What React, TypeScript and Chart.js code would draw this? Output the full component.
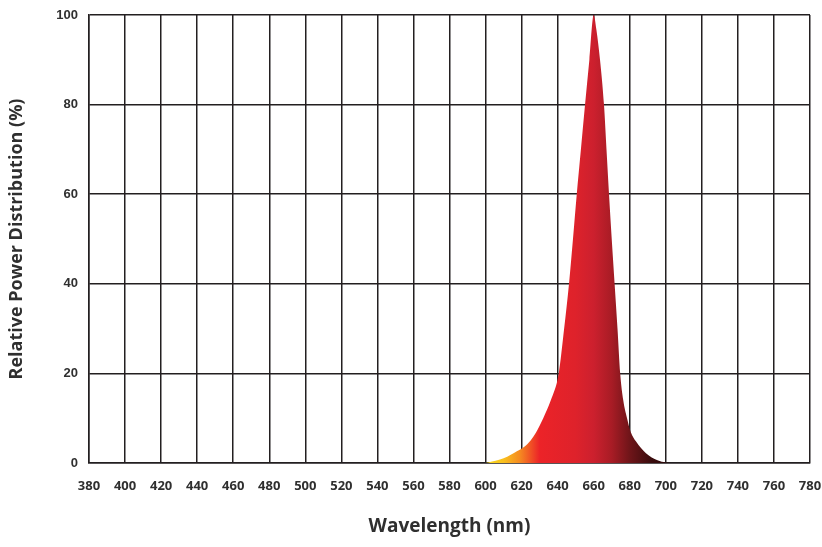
import React, { useEffect, useRef } from "react";
import { Chart, registerables } from "chart.js";

Chart.register(...registerables);

// Wavelength (nm) and relative power (%)
const wavelengths = [600, 603, 608, 612, 616, 621.5, 625, 628, 632, 636.2, 640.6, 643.6, 646.3, 648.5, 650.6, 652.9, 655.2, 657.6, 660, 661.5, 663.5, 665.7, 667.1, 668.5, 670, 671.6, 673.2, 674.7, 676.4, 678.5, 680.5, 683.5, 689, 695.4, 700, 703];
const power = [0, 0.3, 0.8, 1.4, 2.3, 3.6, 5.0, 6.8, 10, 14, 20, 30, 40, 50, 60, 70, 80, 90, 100, 96.7, 90, 80, 70, 60, 50, 40, 30, 20, 14, 10, 7, 4.8, 2.2, 0.6, 0.1, 0];

const xMin = 380;
const xMax = 780;
const xStep = 20;
const yMin = 0;
const yMax = 100;
const yStep = 20;

const xTitle = "Wavelength (nm)";
const yTitle = "Relative Power Distribution (%)";

// gradient colour stops along wavelength
const gradientStops: [number, string][] = [
  [600, "#f9dc1e"],
  [610, "#f9c01e"],
  [619, "#f58a21"],
  [630, "#ec2328"],
  [650, "#de222b"],
  [660, "#cc202e"],
  [670, "#a81c25"],
  [680, "#6f1519"],
  [692, "#3a0c0d"],
  [703, "#2a0808"],
];

export default function App() {
  const ref = useRef<HTMLCanvasElement | null>(null);

  useEffect(() => {
    if (!ref.current) return;
    const gridColor = "#231f20";
    const textColor = "#2f2f2f";
    const chart = new Chart(ref.current, {
      type: "line",
      data: {
        datasets: [
          {
            data: wavelengths.map((w, i) => ({ x: w, y: power[i] })),
            borderWidth: 0,
            pointRadius: 0,
            fill: "origin",
            cubicInterpolationMode: "monotone",
            backgroundColor: (ctx: any) => {
              const c = ctx.chart;
              if (!c.chartArea) return "#d9222c";
              const xs = c.scales.x;
              const w0 = gradientStops[0][0];
              const w1 = gradientStops[gradientStops.length - 1][0];
              const g = c.ctx.createLinearGradient(xs.getPixelForValue(w0), 0, xs.getPixelForValue(w1), 0);
              gradientStops.forEach(([w, col]) => g.addColorStop((w - w0) / (w1 - w0), col));
              return g;
            },
          } as any,
        ],
      },
      options: {
        animation: false,
        responsive: true,
        maintainAspectRatio: false,
        layout: { padding: { left: 0, right: 12, top: 15, bottom: 0 } },
        plugins: { legend: { display: false }, tooltip: { enabled: false } },
        scales: {
          x: {
            type: "linear",
            min: xMin,
            max: xMax,
            z: 1,
            afterFit: (s: any) => {
              s.height = 84;
              s.paddingLeft = 0;
              s.paddingRight = 0;
            },
            ticks: {
              stepSize: xStep,
              padding: 15,
              color: textColor,
              maxRotation: 0,
              autoSkip: false,
              font: { family: "'Open Sans'", weight: "bold", size: 13 },
            },
            grid: { color: gridColor, lineWidth: 1.5, drawTicks: false, tickLength: 0 },
            border: { color: gridColor, width: 1.5 },
            title: {
              display: true,
              text: xTitle,
              color: textColor,
              padding: { top: 0, bottom: 9 },
              font: { family: "'Open Sans'", weight: "bold", size: 19 },
            },
          },
          y: {
            min: yMin,
            max: yMax,
            z: 1,
            afterFit: (s: any) => {
              s.width = 89;
              s.paddingTop = 0;
              s.paddingBottom = 0;
            },
            ticks: {
              stepSize: yStep,
              padding: 11,
              color: textColor,
              font: { family: "'Liberation Sans'", weight: "bold", size: 13 },
            },
            grid: { color: gridColor, lineWidth: 1.5, drawTicks: false, tickLength: 0 },
            border: { color: gridColor, width: 1.5 },
            title: {
              display: true,
              text: yTitle,
              color: textColor,
              padding: { top: 6, bottom: 0 },
              font: { family: "'Open Sans'", weight: "bold", size: 18 },
            },
          },
        },
      },
    } as any);
    return () => chart.destroy();
  }, []);

  return (
    <div style={{ position: "absolute", left: 0, top: 0, width: 822, height: 547, background: "#fff" }}>
      <canvas ref={ref} />
    </div>
  );
}
